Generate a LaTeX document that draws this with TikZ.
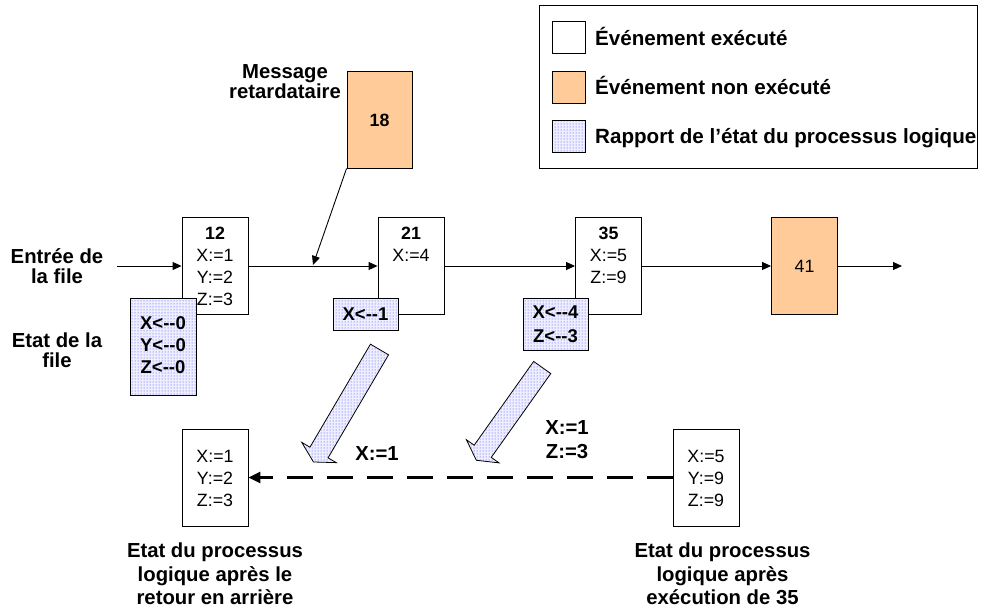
\documentclass[tikz,border=0pt]{standalone}
\usepackage{fontspec}
\setmainfont{Liberation Sans}
\usetikzlibrary{arrows.meta,patterns,calc}
\definecolor{evorange}{RGB}{255,204,153}
\definecolor{dotblue}{RGB}{60,60,255}
\definecolor{dotback}{RGB}{238,238,255}
\newcommand{\myddash}{\mbox{-}\mbox{-}}
\tikzset{
  evbox/.style={draw=black, line width=0.9pt, minimum width=66pt, minimum height=97pt, inner sep=0pt, fill=white},
  nonexec/.style={evbox, fill=evorange},
  report/.style={draw=black, line width=0.8pt, inner sep=0pt, pattern=dots, pattern color=dotblue, preaction={fill=dotback}},
  flow/.style={draw=black, line width=0.9pt, -{Triangle[length=9pt,width=8pt]}},
  backflow/.style={draw=black, line width=2.5pt, dash pattern=on 26pt off 14pt, -{Triangle[length=12pt,width=11pt]}},
  boxtxt/.style={inner sep=0pt, align=center, font=\fontsize{17.8}{22}\selectfont, text height=12.7pt, text depth=0pt},
  lab/.style={inner sep=0pt, align=center, font=\fontsize{20.3}{23.5}\selectfont\bfseries, text height=14.5pt, text depth=0pt},
  legtxt/.style={inner sep=0pt, anchor=west, font=\fontsize{20.6}{24}\selectfont\bfseries, text height=14.7pt, text depth=0pt},
  reptxt/.style={inner sep=0pt, align=center, font=\fontsize{18.5}{22}\selectfont\bfseries, text height=13.2pt, text depth=0pt},
  legsq/.style={draw=black, line width=1pt, minimum width=33pt, minimum height=32pt, inner sep=0pt}
}
% multi-line text nodes are placed at the centre of their LAST line
\newcommand{\blockarr}[2]{%
  \path[report, line width=0.8pt]
    ($(#1)!10.5pt!90:(#2)$) -- ($(#2)!10.5pt!-90:(#1)$) -- ($(#2)!20pt!-90:(#1)$)
    -- ($(#2)!-11pt!(#1)$) -- ($(#2)!20pt!90:(#1)$) -- ($(#2)!10.5pt!90:(#1)$)
    -- ($(#1)!10.5pt!-90:(#2)$) -- cycle;}
\begin{document}
\begin{tikzpicture}[x=1pt,y=-1pt]
\useasboundingbox (0,0) rectangle (981,610);

% legend
\node[draw=black, line width=1pt, minimum width=438pt, minimum height=162pt, inner sep=0pt] (legend) at (758,87) {};
\node[legsq, fill=white] (sq1) at (568.5,38) {};
\node[legsq, fill=evorange] (sq2) at (568.5,87) {};
\node[legsq, report, line width=1pt, minimum width=33pt, minimum height=32pt] (sq3) at (568.5,136) {};
\node[legtxt] (lt1) at (595,38) {Événement exécuté};
\node[legtxt] (lt2) at (595,87) {Événement non exécuté};
\node[legtxt] (lt3) at (595,136) {Rapport de l’état du processus logique};

% event boxes
\node[evbox] (b12) at (215,266) {};
\node[evbox] (b21) at (411,266) {};
\node[evbox] (b35) at (608.5,266) {};
\node[nonexec] (b41) at (804.5,266) {};
\node[nonexec, minimum width=65pt] (b18) at (379.5,119.5) {};

\node[boxtxt] (t12) at (215,299) {\textbf{12}\\X:=1\\Y:=2\\Z:=3};
\node[boxtxt] (t21) at (411,255) {\textbf{21}\\X:=4};
\node[boxtxt] (t35) at (608.5,277) {\textbf{35}\\X:=5\\Z:=9};
\node[boxtxt] (t41) at (804.5,266) {41};
\node[boxtxt] (t18) at (379.5,120) {\textbf{18}};

% queue line
\coordinate (qin) at (117,266);
\coordinate (qout) at (902,266);
\coordinate (hit) at (313,265);
\draw[flow] (qin) -- (b12.west);
\draw[flow] (b12.east) -- (b21.west);
\draw[flow] (b21.east) -- (b35.west);
\draw[flow] (b35.east) -- (b41.west);
\draw[flow] (b41.east) -- (qout);
\draw[flow] (b18.south west) -- (hit);

% state reports
\node[report, minimum width=66pt, minimum height=97pt] (r12) at (163,346.5) {};
\node[report, minimum width=65pt, minimum height=32pt] (r21) at (365.5,314) {};
\node[report, minimum width=65pt, minimum height=52pt] (r35) at (555.5,324) {};
\node[reptxt] (rt12) at (163,367) {X<\myddash0\\Y<\myddash0\\Z<\myddash0};
\node[reptxt] (rt21) at (365.5,314) {X<\myddash1};
\node[reptxt, font=\fontsize{18.5}{24}\selectfont\bfseries] (rt35) at (555.5,336) {X<\myddash4\\Z<\myddash3};

% block arrows
\coordinate (T1) at (379.5,349.5); \coordinate (M1) at (319,452.5);
\coordinate (T2) at (542.2,367.5); \coordinate (M2) at (482.7,451.3);
\blockarr{T1}{M1}
\blockarr{T2}{M2}

% lower state boxes
\node[evbox] (lowL) at (215,477.5) {};
\node[evbox] (lowR) at (706,477.5) {};
\node[boxtxt] (tlowL) at (215,500) {X:=1\\Y:=2\\Z:=3};
\node[boxtxt] (tlowR) at (706,500) {X:=5\\Y:=9\\Z:=9};
\draw[backflow] (lowR.west) -- (lowL.east);

% labels
\node[lab, font=\fontsize{20.3}{20}\selectfont\bfseries] (lmsg) at (285,91.7) {Message\\retardataire};
\node[lab, font=\fontsize{20.3}{20}\selectfont\bfseries] (lin) at (57,276.3) {Entrée de\\la file};
\node[lab, font=\fontsize{20.3}{20}\selectfont\bfseries] (lstate) at (57,360) {Etat de la\\file};
\node[lab] (lx1) at (377,453) {X:=1};
\node[lab, font=\fontsize{20.3}{24.7}\selectfont\bfseries] (lxz) at (567,451.7) {X:=1\\Z:=3};
\node[lab] (lbl) at (215,597.7) {Etat du processus\\logique après le\\retour en arrière};
\node[lab] (lbr) at (722.5,597.7) {Etat du processus\\logique après\\exécution de 35};
\end{tikzpicture}
\end{document}
